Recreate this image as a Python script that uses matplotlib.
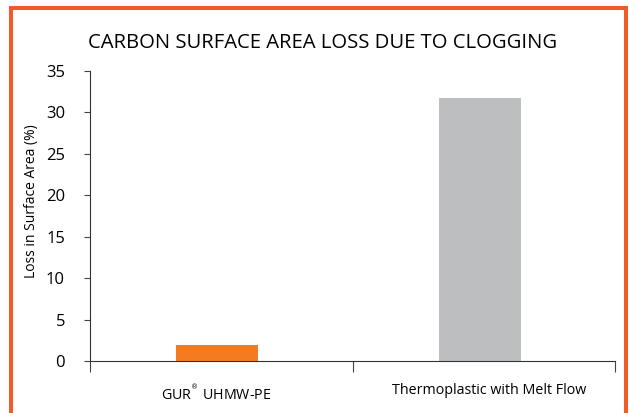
import matplotlib.pyplot as plt
from matplotlib.patches import Rectangle

categories = ['GUR$^{^{®}}$ UHMW-PE', 'Thermoplastic with Melt Flow']
loss_pct = [1.93, 31.7]
bar_colors = ['#F47C20', '#BDBEC0']
yticks = [0, 5, 10, 15, 20, 25, 30, 35]

W, H = 629, 413
plt.rcParams['font.family'] = ['Open Sans', 'DejaVu Sans']
fig = plt.figure(figsize=(W / 100, H / 100), dpi=100)

# orange frame around the whole graphic (bottom edge runs off the image)
top = 1 - 7.5 / H
fig.patches.append(Rectangle((11 / W, -0.05), (626 - 11) / W, top + 0.05,
                             transform=fig.transFigure, fill=False,
                             edgecolor='#F15A29', linewidth=2.9))

ax = fig.add_axes([90 / W, 1 - 361 / H, (615 - 90) / W, (361 - 71) / H])
x = range(len(categories))
ax.bar([i - 0.015 for i in x], loss_pct, width=0.312, color=bar_colors)
ax.set_xlim(-0.5, 1.5)
ax.set_ylim(0, 35)
ax.set_yticks(yticks)
ax.set_xticks([-0.5, 0.5, 1.5])
ax.set_xticklabels([])
ax.set_xticks([-0.02, 1.02], minor=True)
ax.set_xticklabels(categories, minor=True, fontsize=10.3)
ax.tick_params(axis='x', which='major', direction='out', length=8, width=0.8, color='#444444')
ax.tick_params(axis='x', which='minor', length=0, pad=16)
ax.tick_params(axis='y', direction='out', length=4, width=0.8, color='#444444',
               labelsize=12, pad=14)
for s in ['top', 'right']:
    ax.spines[s].set_visible(False)
for s in ['left', 'bottom']:
    ax.spines[s].set_color('#333333')
    ax.spines[s].set_linewidth(0.8)
fig.text(32 / W, 1 - 201 / H, 'Loss in Surface Area (%)', rotation=90,
         ha='center', va='center', fontsize=10)
fig.text(323 / W, 1 - 43 / H, 'CARBON SURFACE AREA LOSS DUE TO CLOGGING',
         ha='center', va='center', fontsize=14.6)

fig.savefig('out.png', dpi=100)
